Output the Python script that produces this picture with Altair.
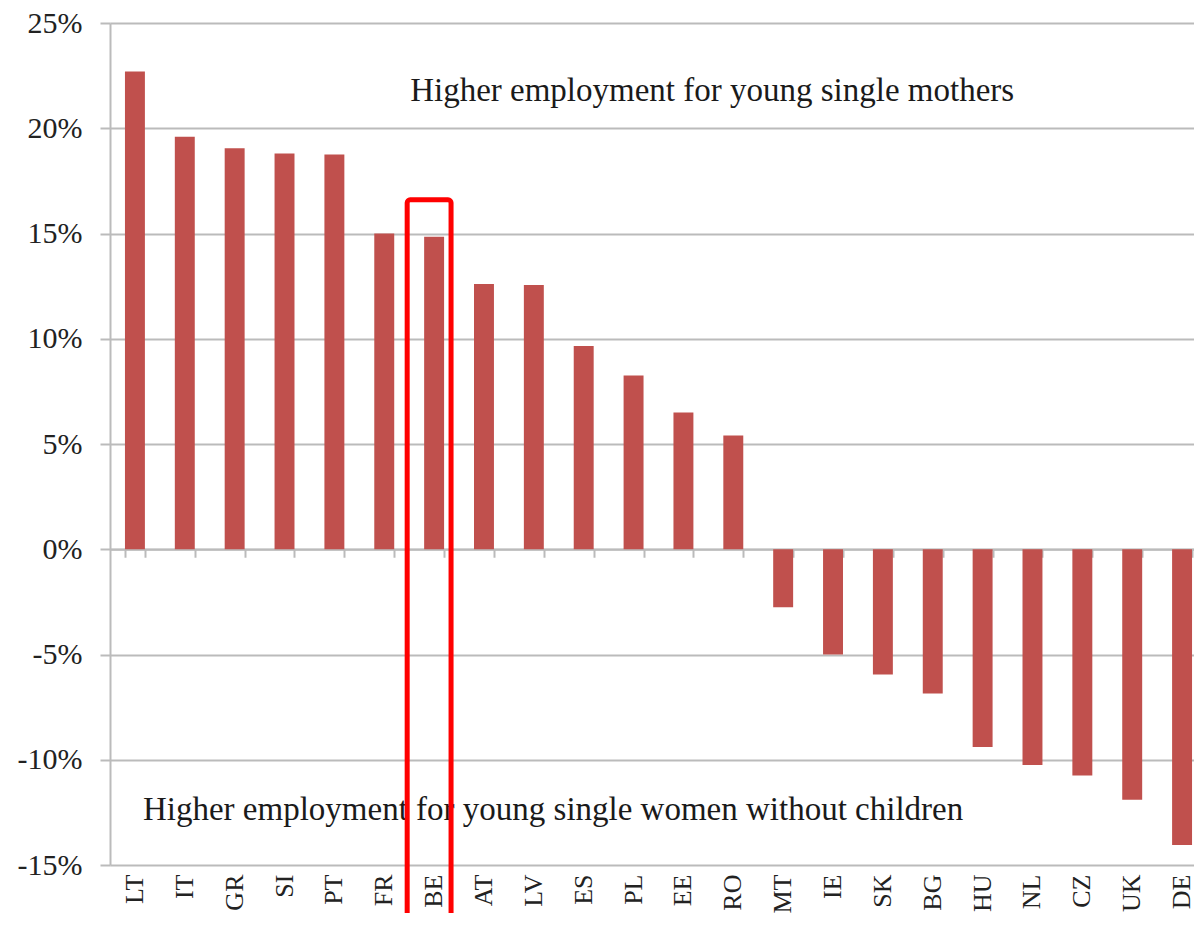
import altair as alt
import pandas as pd

countries = ["LT", "IT", "GR", "SI", "PT", "FR", "BE", "AT", "LV", "ES", "PL",
             "EE", "RO", "MT", "IE", "SK", "BG", "HU", "NL", "CZ", "UK", "DE"]
values = [22.7, 19.6, 19.05, 18.8, 18.75, 15.0, 14.85, 12.6, 12.55, 9.65, 8.25,
          6.5, 5.4, -2.75, -5.0, -5.95, -6.85, -9.4, -10.25, -10.75, -11.9, -14.05]
y_ticks = [-15, -10, -5, 0, 5, 10, 15, 20, 25]

top_note = ["Higher employment for young single mothers"]
top_note_country = ["BE"]
top_note_value = [21.3]
bottom_note = ["Higher employment for young single women without children"]
bottom_note_country = ["LT"]
bottom_note_value = [-12.86]

highlight_country = ["BE"]
highlight_top = [16.6]
highlight_bottom = [-18.5]

W, H = 1084, 842
FONT = "Liberation Serif, Times New Roman, serif"
GRAY = "#BBBBBB"
BAR = "#C0504D"

df = pd.DataFrame({"country": countries, "value": values})
top_df = pd.DataFrame({"text": top_note, "country": top_note_country, "value": top_note_value})
bot_df = pd.DataFrame({"text": bottom_note, "country": bottom_note_country, "value": bottom_note_value})
hl_df = pd.DataFrame({"country": highlight_country, "top": highlight_top, "bottom": highlight_bottom})

xscale = alt.Scale(domain=countries, paddingInner=0.6, paddingOuter=0.3, range=[0, 1097])
yscale = alt.Scale(domain=[-15, 25], nice=False, zero=False)

bars = alt.Chart(df).mark_bar(color=BAR).encode(
    x=alt.X("country:N", sort=countries, scale=xscale, title=None,
            axis=alt.Axis(orient="bottom", domain=False, ticks=False, labelAngle=270,
                          labelAlign="right", labelBaseline="middle",
                          labelFont=FONT, labelColor="#222222",
                          labelFontSize=26, labelPadding=9, grid=False)),
    y=alt.Y("value:Q", scale=yscale, title=None,
            axis=alt.Axis(values=y_ticks, labelExpr="datum.value + '%'",
                          grid=True, gridColor=GRAY, gridWidth=2,
                          tickColor=GRAY, tickWidth=2, tickSize=10,
                          domain=True, domainColor=GRAY, domainWidth=2,
                          labelFont=FONT, labelColor="#222222",
                          labelFontSize=30, labelPadding=18)),
)

zero_axis = alt.Chart(df).mark_point(opacity=0).encode(
    x=alt.X("country:N", sort=countries, scale=xscale, title=None,
            axis=alt.Axis(orient="bottom", offset=-H * 15 / 40, labels=False,
                          ticks=True, tickBand="extent", tickSize=8, tickColor=GRAY,
                          tickWidth=2, domain=True, domainColor=GRAY, domainWidth=2,
                          grid=False)),
    y=alt.Y("value:Q", scale=yscale, axis=None),
)

top_text = alt.Chart(top_df).mark_text(
    align="left", baseline="alphabetic", font=FONT, fontSize=33, color="#1a1a1a", dx=-14
).encode(
    x=alt.X("country:N", sort=countries, scale=xscale, bandPosition=0, axis=None),
    y=alt.Y("value:Q", scale=yscale, axis=None),
    text="text:N",
)

bot_text = alt.Chart(bot_df).mark_text(
    align="left", baseline="alphabetic", font=FONT, fontSize=33, color="#1a1a1a", dx=18
).encode(
    x=alt.X("country:N", sort=countries, scale=xscale, bandPosition=0, axis=None),
    y=alt.Y("value:Q", scale=yscale, axis=None),
    text="text:N",
)

highlight = alt.Chart(hl_df).mark_bar(
    fillOpacity=0, stroke="#FF0000", strokeWidth=5, cornerRadius=3,
    width={"band": 2.2}, xOffset=-5, clip=False
).encode(
    x=alt.X("country:N", sort=countries, scale=xscale, axis=None),
    y=alt.Y("top:Q", scale=yscale, axis=None),
    y2="bottom:Q",
)

chart = alt.layer(bars, zero_axis, top_text, bot_text, highlight).resolve_axis(
    x="independent", y="independent"
).properties(
    width=W, height=H,
    background="white",
    autosize=alt.AutoSizeParams(type="none"),
    padding={"left": 102, "top": 15, "right": 0, "bottom": 48},
).configure_view(stroke=None).configure_axis(
    labelFont=FONT, labelColor="#222222"
).configure_text(font=FONT)

chart.save("out.html", embed_options={"renderer": "svg", "actions": False})
